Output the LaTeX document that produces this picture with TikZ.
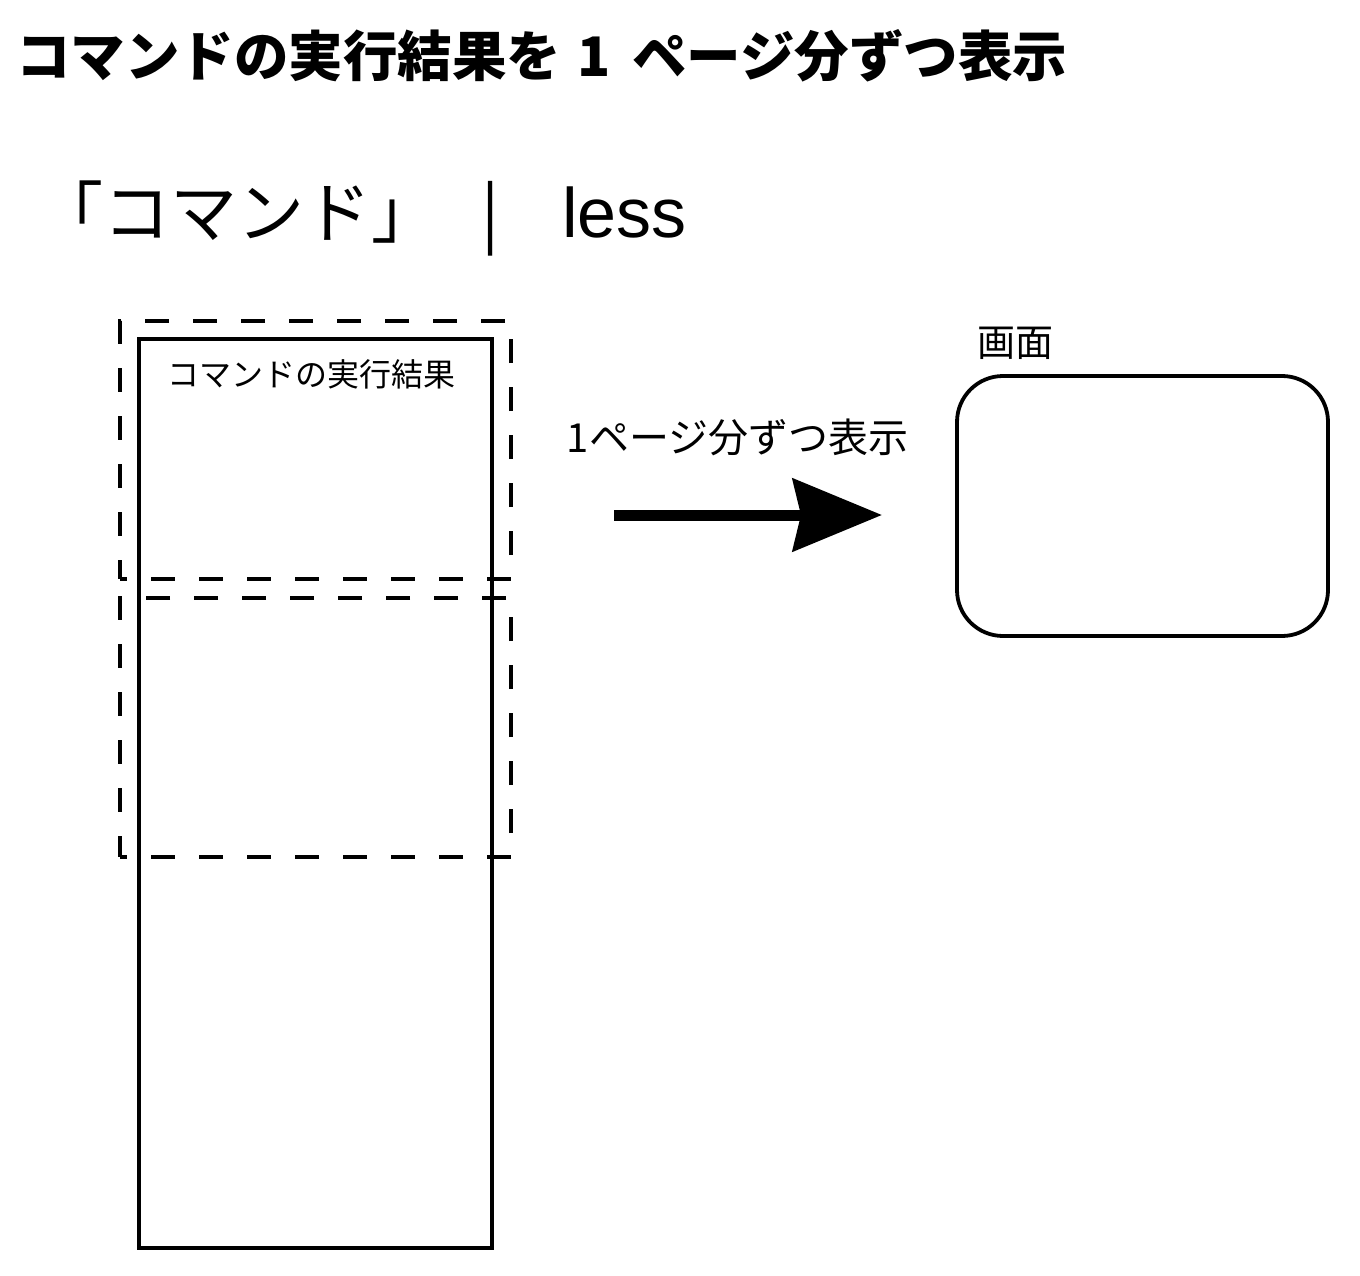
\documentclass[tikz,border=0pt]{standalone}
\usepackage{fontspec}
\setmainfont{Noto Sans CJK JP}
\newfontfamily\latinsans{Liberation Sans}
\usetikzlibrary{arrows.meta}
\begin{document}
\begin{tikzpicture}[x=1pt,y=-1pt,
  box/.style={draw,line width=3.8pt,inner sep=0pt,outer sep=0pt,anchor=north west},
  pagebox/.style={draw,line width=3.8pt,dash pattern=on 24pt off 24pt,dash phase=17pt,inner sep=0pt,outer sep=0pt,anchor=north west},
  txt/.style={inner sep=0pt,anchor=center}]
\useasboundingbox (0,0) rectangle (1360,1276);
\node[txt,anchor=base west,font=\bfseries\fontsize{54.5}{60}\selectfont] (title) at (16,77) {コマンドの実行結果を\hspace{4pt} 1\hspace{9pt} ページ分ずつ表示};
\node[txt,anchor=base west,font=\fontsize{67}{72}\selectfont] (cmd) at (36,237) {「コマンド」\hspace{43pt}|\hspace{63pt}{\latinsans\fontsize{70}{72}\selectfont less}};
\node[box,minimum width=353pt,minimum height=909pt] (result) at (139,339) {};
\node[txt,font=\fontsize{32}{36}\selectfont] (rlabel) at (311.5,374) {コマンドの実行結果};
\node[pagebox,minimum width=391pt,minimum height=258pt] (page1) at (120,321) {};
\node[pagebox,minimum width=391pt,minimum height=259pt] (page2) at (120,598) {};
\node[txt,font=\fontsize{40}{44}\selectfont] (alabel) at (737.5,437) {1ページ分ずつ表示};
\node[box,rounded corners=46pt,minimum width=371pt,minimum height=260pt] (screen) at (957,376) {};
\node[txt,font=\fontsize{38}{42}\selectfont] (slabel) at (1015,343) {画面};
\coordinate (astart) at (614,515);
\coordinate (aend) at (882,515);
\draw[line width=11pt,-{Stealth[length=89pt,width=72pt,inset=8pt]}] (astart) -- (aend);
\end{tikzpicture}
\end{document}
